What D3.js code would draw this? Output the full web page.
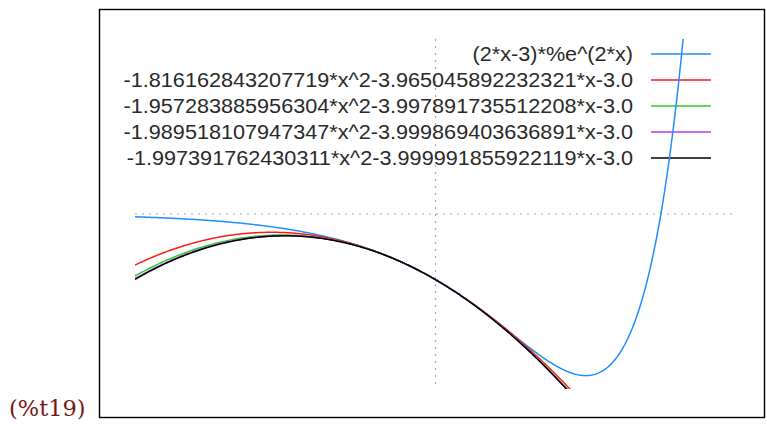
<!DOCTYPE html>
<html>
<head>
<meta charset="utf-8">
<script src="https://cdn.jsdelivr.net/npm/d3@7"></script>
<style>
  html, body { margin: 0; padding: 0; background: #fff; }
  svg { display: block; }
</style>
</head>
<body>
<script>
// Plot ranges
const xDomain = [-2, 2];
const yDomain = [-8, 8];

// Series: the exact function and its quadratic approximations a*x^2 + b*x + c
const seriesLabels = [
  "(2*x-3)*%e^(2*x)",
  "-1.816162843207719*x^2-3.965045892232321*x-3.0",
  "-1.957283885956304*x^2-3.997891735512208*x-3.0",
  "-1.989518107947347*x^2-3.999869403636891*x-3.0",
  "-1.997391762430311*x^2-3.999991855922119*x-3.0"
];
const quadA = [-1.816162843207719, -1.957283885956304, -1.989518107947347, -1.997391762430311];
const quadB = [-3.965045892232321, -3.997891735512208, -3.999869403636891, -3.999991855922119];
const quadC = [-3.0, -3.0, -3.0, -3.0];
const seriesColors = ["#1e8fff", "#ff1a1a", "#2ecc2e", "#b43cf0", "#000000"];
const outputLabel = "(%t19)";

const W = 767, H = 424;
const svg = d3.select("body").append("svg").attr("width", W).attr("height", H);

const x = d3.scaleLinear().domain(xDomain).range([135, 736]);
const y = d3.scaleLinear().domain(yDomain).range([389, 39]);

// Functions to plot
const fns = [
  t => (2 * t - 3) * Math.exp(2 * t),
  ...quadA.map((a, i) => t => a * t * t + quadB[i] * t + quadC[i])
];

// Clip region = plot range
svg.append("defs").append("clipPath").attr("id", "plotclip")
  .append("rect")
  .attr("x", x(xDomain[0])).attr("y", y(yDomain[1]))
  .attr("width", x(xDomain[1]) - x(xDomain[0]))
  .attr("height", y(yDomain[0]) - y(yDomain[1]));

// Frame
svg.append("rect")
  .attr("x", 99.5).attr("y", 9.5)
  .attr("width", 665).attr("height", 408)
  .attr("fill", "none").attr("stroke", "#000").attr("stroke-width", 1.4);

// Zero axes (dotted)
const axes = svg.append("g")
  .attr("stroke", "#a8a8a8").attr("stroke-width", 1.2)
  .attr("stroke-dasharray", "2,5");
axes.append("line")
  .attr("x1", x(xDomain[0])).attr("x2", x(xDomain[1]))
  .attr("y1", y(0)).attr("y2", y(0));
axes.append("line")
  .attr("x1", x(0)).attr("x2", x(0))
  .attr("y1", y(yDomain[1])).attr("y2", y(yDomain[0]));

// Legend
const legendRows = [54, 80, 106, 132, 158];
const legend = svg.append("g");
seriesLabels.forEach((lab, i) => {
  const row = legend.append("g").attr("transform", `translate(0,${legendRows[i]})`);
  row.append("text")
    .attr("x", 0).attr("y", 0)
    .attr("dy", "0.34em")
    .attr("text-anchor", "end")
    .attr("transform", "translate(633,0) scale(1.11,1)")
    .attr("font-family", "Liberation Sans, Arial, sans-serif")
    .attr("font-size", 19.5)
    .attr("fill", "#2a2a2a")
    .text(lab);
  row.append("line")
    .attr("x1", 651).attr("x2", 711)
    .attr("y1", 0).attr("y2", 0)
    .attr("stroke", seriesColors[i]).attr("stroke-width", 1.5);
});

// Curves
const samples = d3.range(0, 401).map(k => xDomain[0] + (xDomain[1] - xDomain[0]) * k / 400);
const line = d3.line()
  .defined(d => isFinite(d[1]))
  .x(d => x(d[0]))
  .y(d => y(Math.max(yDomain[0] - 1, Math.min(yDomain[1] + 1, d[1]))));

const curves = svg.append("g").attr("clip-path", "url(#plotclip)");
fns.forEach((f, i) => {
  curves.append("path")
    .datum(samples.map(t => [t, f(t)]))
    .attr("d", line)
    .attr("fill", "none")
    .attr("stroke", seriesColors[i])
    .attr("stroke-width", 1.5);
});

// Output cell label
svg.append("text")
  .attr("x", 9).attr("y", 416)
  .attr("font-family", "DejaVu Serif, Liberation Serif, serif")
  .attr("font-size", 22.5)
  .attr("fill", "#7a1414")
  .text(outputLabel);
</script>
</body>
</html>
